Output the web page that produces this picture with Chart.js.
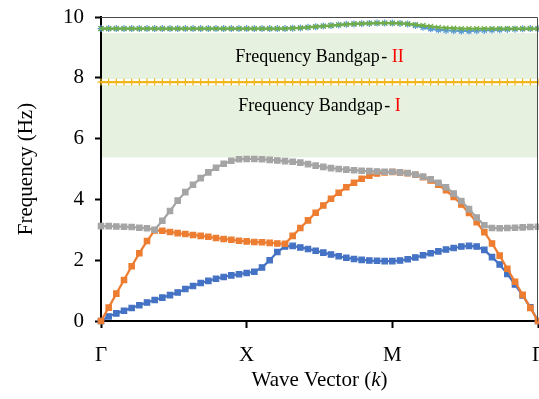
<!DOCTYPE html>
<html>
<head>
<meta charset="utf-8">
<script src="https://cdn.jsdelivr.net/npm/chart.js@4.4.1/dist/chart.umd.min.js"></script>
<style>
  html, body { margin: 0; padding: 0; background: #fff; }
  canvas { display: block; }
</style>
</head>
<body>
<canvas id="bandChart" width="539" height="399"></canvas>
<script>
// path through the Brillouin zone: 19 steps per segment
const kLabels = ['Γ', 'X', 'M', 'Γ'];
const kTickPos = [0, 19, 38, 57];
const kSteps = Array.from({ length: 58 }, (_, i) => i);

// frequencies (Hz) per branch
const branch1 = [0, 0.15, 0.25, 0.34, 0.43, 0.52, 0.61, 0.69, 0.77, 0.85, 0.94, 1.05, 1.15, 1.25, 1.32, 1.39, 1.45, 1.50, 1.54, 1.58,
  1.62, 1.76, 2.00, 2.27, 2.45, 2.47, 2.42, 2.37, 2.31, 2.25, 2.19, 2.13, 2.08, 2.04, 2.01, 1.99, 1.98, 1.97, 1.97,
  1.99, 2.03, 2.09, 2.16, 2.23, 2.29, 2.35, 2.40, 2.45, 2.47, 2.45, 2.34, 2.10, 1.86, 1.55, 1.20, 0.84, 0.45, 0];
const branch2 = [0, 0.44, 0.90, 1.35, 1.80, 2.23, 2.63, 2.98, 2.97, 2.93, 2.89, 2.86, 2.83, 2.80, 2.77, 2.73, 2.70, 2.67, 2.64, 2.62,
  2.60, 2.59, 2.57, 2.55, 2.54, 2.80, 3.06, 3.31, 3.56, 3.80, 4.02, 4.22, 4.40, 4.55, 4.68, 4.78, 4.85, 4.89, 4.90,
  4.89, 4.86, 4.81, 4.73, 4.62, 4.48, 4.30, 4.08, 3.83, 3.55, 3.25, 2.92, 2.55, 2.15, 1.72, 1.29, 0.86, 0.43, 0];
const branch3 = [3.12, 3.12, 3.11, 3.10, 3.09, 3.07, 3.05, 3.00, 3.30, 3.62, 3.96, 4.24, 4.48, 4.70, 4.89, 5.04, 5.17, 5.27, 5.32, 5.33,
  5.33, 5.32, 5.30, 5.28, 5.26, 5.24, 5.21, 5.16, 5.11, 5.07, 5.03, 5.00, 4.98, 4.96, 4.94, 4.93, 4.92, 4.91, 4.91,
  4.89, 4.87, 4.82, 4.75, 4.66, 4.55, 4.40, 4.19, 3.95, 3.68, 3.40, 3.15, 3.06, 3.05, 3.06, 3.07, 3.08, 3.09, 3.10];
const branch4 = [7.86, 7.86, 7.86, 7.86, 7.86, 7.86, 7.86, 7.86, 7.86, 7.86, 7.86, 7.86, 7.86, 7.86, 7.86, 7.86, 7.86, 7.86, 7.86, 7.86,
  7.86, 7.86, 7.86, 7.86, 7.86, 7.86, 7.86, 7.86, 7.86, 7.86, 7.86, 7.86, 7.86, 7.86, 7.86, 7.86, 7.86, 7.86, 7.86,
  7.86, 7.86, 7.86, 7.86, 7.86, 7.86, 7.86, 7.86, 7.86, 7.86, 7.86, 7.86, 7.86, 7.86, 7.86, 7.86, 7.86, 7.86, 7.86];
const branch5 = [9.62, 9.62, 9.62, 9.62, 9.62, 9.62, 9.62, 9.62, 9.62, 9.62, 9.62, 9.62, 9.62, 9.62, 9.62, 9.62, 9.62, 9.62, 9.62, 9.62,
  9.62, 9.62, 9.62, 9.62, 9.62, 9.63, 9.64, 9.66, 9.68, 9.70, 9.72, 9.74, 9.76, 9.77, 9.78, 9.79, 9.80, 9.80, 9.80,
  9.79, 9.77, 9.72, 9.66, 9.61, 9.58, 9.56, 9.55, 9.54, 9.54, 9.55, 9.56, 9.57, 9.58, 9.59, 9.60, 9.61, 9.62, 9.62];
const branch6 = [9.62, 9.62, 9.62, 9.62, 9.62, 9.62, 9.62, 9.62, 9.62, 9.62, 9.62, 9.62, 9.62, 9.62, 9.62, 9.62, 9.62, 9.62, 9.62, 9.62,
  9.62, 9.62, 9.62, 9.62, 9.62, 9.63, 9.64, 9.66, 9.68, 9.70, 9.72, 9.74, 9.76, 9.77, 9.78, 9.79, 9.80, 9.80, 9.80,
  9.79, 9.77, 9.75, 9.72, 9.69, 9.66, 9.64, 9.63, 9.62, 9.62, 9.62, 9.62, 9.62, 9.62, 9.62, 9.62, 9.62, 9.62, 9.62];

// shaded bandgaps [from, to] in Hz
const gapI = [5.38, 7.76];
const gapII = [7.96, 9.47];
const gapNames = ['I', 'II'];
const gapTextLevels = [7.07, 8.68];

const serif = 'Liberation Serif';

function makeBranch(data, color, style, radius, order) {
  return {
    data: data,
    borderColor: color,
    backgroundColor: color,
    borderWidth: 2.25,
    pointStyle: style,
    pointRadius: radius,
    pointBorderWidth: 1.2,
    pointBorderColor: color,
    pointBackgroundColor: color,
    tension: 0,
    clip: 6,
    order: order
  };
}

// no extra room for labels, the plot area is set by hand
function noPadding(scale) {
  scale.paddingLeft = 0;
  scale.paddingRight = 0;
  scale.paddingTop = 0;
  scale.paddingBottom = 0;
}

const bandgapPlugin = {
  id: 'bandgaps',
  beforeDatasetsDraw(chart) {
    const { ctx, chartArea, scales: { x, y } } = chart;
    ctx.save();
    ctx.fillStyle = '#e7f1df';
    [gapI, gapII].forEach(g => {
      const top = y.getPixelForValue(g[1]);
      const bottom = y.getPixelForValue(g[0]);
      ctx.fillRect(chartArea.left + 1, top, chartArea.right - chartArea.left - 1, bottom - top);
    });

    // "Frequency Bandgap - I / II"
    ctx.font = '18px "' + serif + '"';
    ctx.textBaseline = 'middle';
    ctx.textAlign = 'left';
    const cx = (chartArea.left + chartArea.right) / 2;
    gapNames.forEach((name, i) => {
      const lead = 'Frequency Bandgap\u200a- ';
      const w1 = ctx.measureText(lead).width;
      const w2 = ctx.measureText(name).width;
      const x0 = cx - (w1 + w2) / 2;
      const yy = y.getPixelForValue(gapTextLevels[i]);
      ctx.fillStyle = '#000';
      ctx.fillText(lead, x0, yy);
      ctx.fillStyle = '#ff0000';
      ctx.fillText(name, x0 + w1, yy);
    });
    ctx.restore();
  },
  afterDraw(chart) {
    const { ctx, chartArea, scales: { x } } = chart;
    ctx.save();
    // top and right frame
    ctx.strokeStyle = '#4a4a4a';
    ctx.lineWidth = 1;
    ctx.beginPath();
    ctx.moveTo(chartArea.left, chartArea.top + 0.5);
    ctx.lineTo(chartArea.right - 0.5, chartArea.top + 0.5);
    ctx.lineTo(chartArea.right - 0.5, chartArea.bottom);
    ctx.stroke();

    ctx.fillStyle = '#000';
    ctx.textAlign = 'center';
    ctx.textBaseline = 'middle';
    ctx.font = '21px "' + serif + '"';
    // high-symmetry labels
    kTickPos.forEach((p, i) => {
      ctx.fillText(kLabels[i], x.getPixelForValue(p), 355);
    });

    // x title with italic k
    const cx = (chartArea.left + chartArea.right) / 2;
    const a = 'Wave Vector (', b = 'k', c = ')';
    ctx.textAlign = 'left';
    const wa = ctx.measureText(a).width;
    const wc = ctx.measureText(c).width;
    ctx.font = 'italic 21px "' + serif + '"';
    const wb = ctx.measureText(b).width;
    let xx = cx - (wa + wb + wc) / 2;
    ctx.font = '21px "' + serif + '"';
    ctx.fillText(a, xx, 380);
    ctx.font = 'italic 21px "' + serif + '"';
    ctx.fillText(b, xx + wa, 380);
    ctx.font = '21px "' + serif + '"';
    ctx.fillText(c, xx + wa + wb, 380);

    // y title
    ctx.translate(26, (chartArea.top + chartArea.bottom) / 2);
    ctx.rotate(-Math.PI / 2);
    ctx.textAlign = 'center';
    ctx.fillText('Frequency (Hz)', 0, 0);
    ctx.restore();
  }
};

new Chart(document.getElementById('bandChart'), {
  type: 'line',
  data: {
    labels: kSteps,
    datasets: [
      makeBranch(branch1, '#4472c4', 'rect', 3.8, 6),
      makeBranch(branch2, '#ed7d31', 'rect', 3.8, 5),
      makeBranch(branch3, '#a5a5a5', 'rect', 3.8, 4),
      makeBranch(branch4, '#f2b518', 'cross', 3.5, 3),
      makeBranch(branch5, '#5b9bd5', 'star', 3.5, 2),
      makeBranch(branch6, '#70ad47', 'crossRot', 3.5, 1)
    ]
  },
  options: {
    responsive: false,
    animation: false,
    devicePixelRatio: 1,
    layout: { autoPadding: false, padding: { top: 17, right: 1, left: 0, bottom: 0 } },
    plugins: {
      legend: { display: false },
      tooltip: { enabled: false }
    },
    scales: {
      x: {
        type: 'linear',
        min: 0,
        max: 57,
        afterBuildTicks(scale) {
          scale.ticks = kTickPos.map(v => ({ value: v }));
        },
        afterFit(scale) {
          scale.height = 78;
          noPadding(scale);
        },
        ticks: { display: false },
        grid: { drawOnChartArea: false, tickLength: 7, tickColor: '#000', tickWidth: 2 },
        border: { color: '#000', width: 2 }
      },
      y: {
        min: 0,
        max: 10,
        afterFit(scale) {
          scale.width = 101;
          noPadding(scale);
        },
        ticks: {
          stepSize: 2,
          padding: 11,
          color: '#000',
          font: { family: serif, size: 21 }
        },
        grid: { drawOnChartArea: false, tickLength: 6, tickColor: '#000', tickWidth: 2 },
        border: { color: '#000', width: 2 }
      }
    }
  },
  plugins: [bandgapPlugin]
});
</script>
</body>
</html>
